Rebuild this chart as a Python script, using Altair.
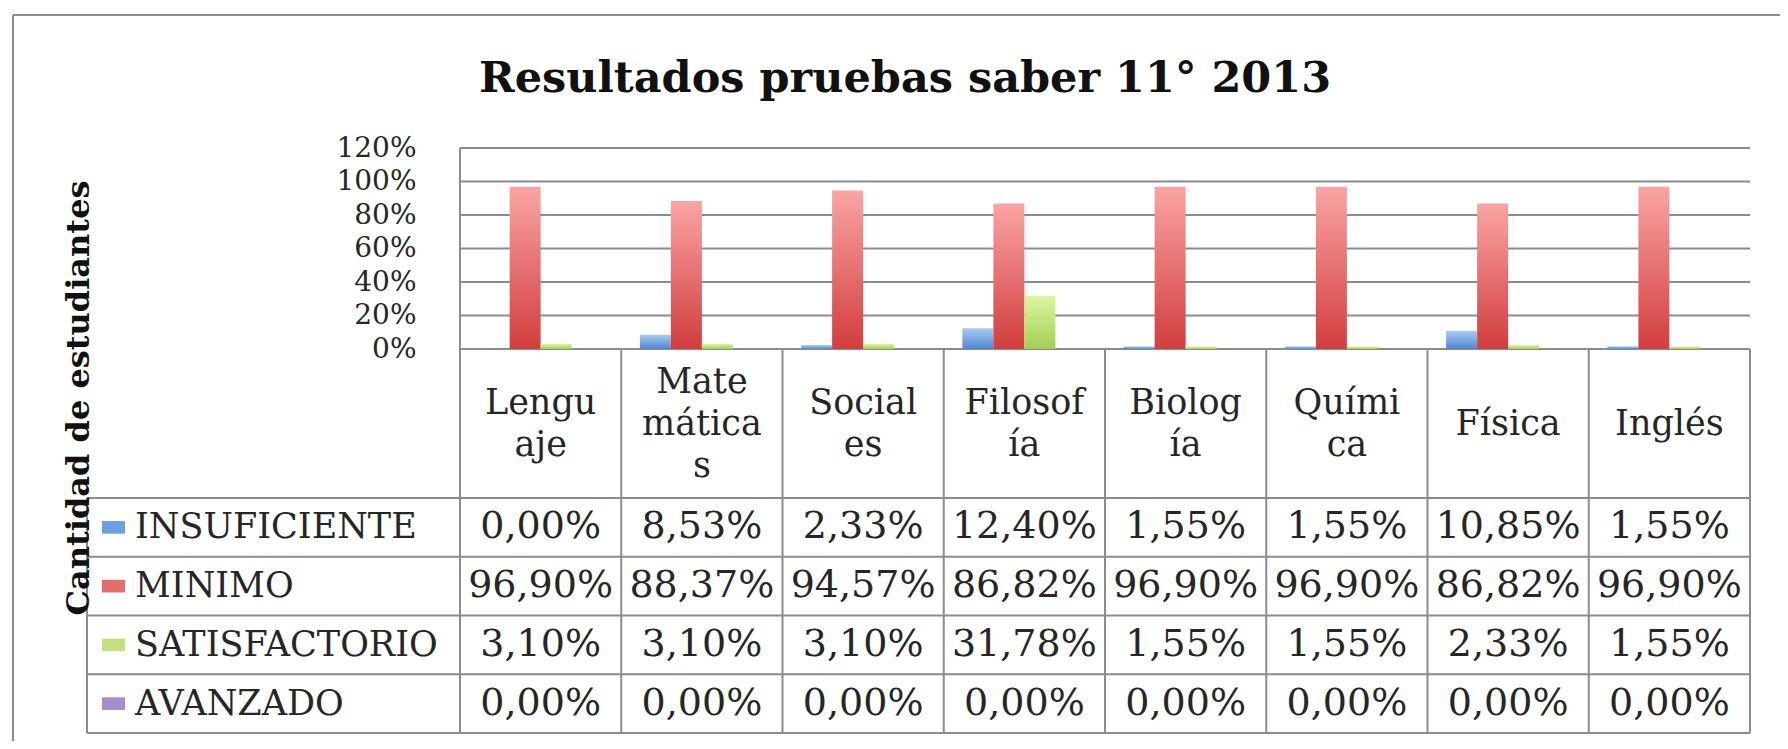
import altair as alt
import pandas as pd

# ---------------- data ----------------
categories = ["Lenguaje", "Matemáticas", "Sociales", "Filosofía", "Biología", "Química", "Física", "Inglés"]
header_labels = ["Lengu\naje", "Mate\nmática\ns", "Social\nes", "Filosof\nía", "Biolog\nía", "Quími\nca", "Física", "Inglés"]
series = ["INSUFICIENTE", "MINIMO", "SATISFACTORIO", "AVANZADO"]
insuficiente = [0.00, 8.53, 2.33, 12.40, 1.55, 1.55, 10.85, 1.55]
minimo = [96.90, 88.37, 94.57, 86.82, 96.90, 96.90, 86.82, 96.90]
satisfactorio = [3.10, 3.10, 3.10, 31.78, 1.55, 1.55, 2.33, 1.55]
avanzado = [0.00, 0.00, 0.00, 0.00, 0.00, 0.00, 0.00, 0.00]
y_ticks = [0.0, 0.2, 0.4, 0.6, 0.8, 1.0, 1.2]
title_text = "Resultados pruebas saber 11° 2013"
y_title = "Cantidad de estudiantes"

series_values = [insuficiente, minimo, satisfactorio, avanzado]
legend_colors = ["#6d9fe0", "#e46c6c", "#c5e07f", "#a48fcc"]
gradients = [("#a9caf3", "#4f86cf"), ("#faa4a4", "#d23d3d"),
             ("#def6a2", "#a2cf52"), ("#c4b5de", "#8064a2")]

# ---------------- layout (pixels) ----------------
COL_PX = 161.25      # width of one subject column
Y_PX = 167.5         # pixels per 100 %
LEG_PX = 373         # width of the legend column of the data table
HEAD_PX = 149        # header row height
ROW_PX = 58.75       # data row height
BAR_PX = 31
LINE_H = 42          # header line height
N = len(categories)
S = len(series)
W = round(LEG_PX + N * COL_PX)
H = round(1.2 * Y_PX + HEAD_PX + S * ROW_PX)
x_min = -LEG_PX / COL_PX
y_max = 1.2
y_min = -(HEAD_PX + S * ROW_PX) / Y_PX
y_head = -HEAD_PX / Y_PX
r = ROW_PX / Y_PX
bw = BAR_PX / COL_PX

xs = alt.Scale(domain=[x_min, N], nice=False, zero=False)
ys = alt.Scale(domain=[y_min, y_max], nice=False, zero=False)

# ---------------- tables ----------------
bar_rows, cell_rows = [], []
for j, s in enumerate(series):
    for i, c in enumerate(categories):
        v = series_values[j][i]
        x0 = i + 0.5 + (j - S / 2) * bw
        bar_rows.append({"serie": s, "cat": c, "x": x0, "x2": x0 + bw, "y": 0.0, "y2": v / 100})
        cell_rows.append({"serie": s, "cat": c, "x": i + 0.5,
                          "y": y_head - (j + 0.5) * r,
                          "label": f"{v:.2f}".replace(".", ",") + "%"})
bars = pd.DataFrame(bar_rows)
cells = pd.DataFrame(cell_rows)
n_lines = [h.count("\n") + 1 for h in header_labels]
heads = pd.DataFrame({"x": [i + 0.5 for i in range(N)],
                      "y": [y_head / 2 + (n - 1) / 2 * LINE_H / Y_PX for n in n_lines],
                      "label": header_labels})
legend = pd.DataFrame({"serie": series,
                       "y": [y_head - (j + 0.5) * r for j in range(S)],
                       "xs": [x_min + 26.5 / COL_PX] * S,
                       "xt": [x_min + 48 / COL_PX] * S})

segs = []
for t in y_ticks:
    segs.append((0, N, t, t))
segs.append((0, 0, y_max, y_min))
for i in range(1, N + 1):
    segs.append((i, i, 0, y_min))
for k in range(S + 1):
    yy = y_head - k * r
    segs.append((x_min, N, yy, yy))
segs.append((x_min, x_min, y_head, y_min))
lines = pd.DataFrame(segs, columns=["x", "x2", "y", "y2"])

FONT = "DejaVu Serif"
TXT = "#262626"
LINE = "#8c8c8c"

yaxis = alt.Axis(values=y_ticks, format=".0%", labelFont=FONT, labelFontSize=28, labelColor=TXT,
                 domain=False, ticks=False, grid=False, labelPadding=0, offset=-(416 - 87),
                 title=None, labelOverlap=False, labelFlush=False)
X = lambda f: alt.X(f, scale=xs, axis=None)
Y = lambda f: alt.Y(f, scale=ys, axis=yaxis)

rules = alt.Chart(lines).mark_rule(color=LINE, strokeWidth=2).encode(
    x=X("x:Q"), x2="x2:Q", y=Y("y:Q"), y2="y2:Q")

bar_layers = []
for s, (top, bot) in zip(series, gradients):
    grad = alt.LinearGradient(gradient="linear",
                              stops=[alt.GradientStop(color=top, offset=0),
                                     alt.GradientStop(color=bot, offset=1)],
                              x1=0, x2=0, y1=0, y2=1)
    bar_layers.append(
        alt.Chart(bars).transform_filter(alt.datum.serie == s).mark_rect(color=grad).encode(
            x=X("x:Q"), x2="x2:Q", y=Y("y:Q"), y2="y2:Q"))

cell_text = alt.Chart(cells).mark_text(font=FONT, fontSize=38, color=TXT, align="center", baseline="middle").encode(
    x=X("x:Q"), y=Y("y:Q"), text="label:N")

head_text = alt.Chart(heads).mark_text(font=FONT, fontSize=35, color=TXT, align="center", baseline="middle",
                                       lineBreak="\n", lineHeight=LINE_H).encode(
    x=X("x:Q"), y=Y("y:Q"), text="label:N")

leg_sym = alt.Chart(legend).mark_point(shape="M-1,-0.55L1,-0.55L1,0.55L-1,0.55Z", size=529,
                                       filled=True, opacity=1).encode(
    x=X("xs:Q"), y=Y("y:Q"),
    color=alt.Color("serie:N", scale=alt.Scale(domain=series, range=legend_colors), legend=None))

leg_text = alt.Chart(legend).mark_text(font=FONT, fontSize=35, color=TXT, align="left", baseline="middle").encode(
    x=X("xt:Q"), y=Y("y:Q"), text="serie:N")

title = alt.Chart(pd.DataFrame({"t": [title_text]})).mark_text(
    font=FONT, fontSize=43, fontWeight="bold", color="#111111", align="center", baseline="alphabetic").encode(
    text="t:N", x=alt.value(818), y=alt.value(-56))

ytitle = alt.Chart(pd.DataFrame({"t": [y_title]})).mark_text(
    font=FONT, fontSize=32, fontWeight="bold", color="#111111", align="center", baseline="middle", angle=270).encode(
    text="t:N", x=alt.value(-8), y=alt.value(250))

frame_top = alt.Chart(pd.DataFrame({"a": [0]})).mark_rule(color=LINE, strokeWidth=2).encode(
    x=alt.value(-74), x2=alt.value(1693), y=alt.value(-133), y2=alt.value(-133))
frame_left = alt.Chart(pd.DataFrame({"a": [0]})).mark_rule(color=LINE, strokeWidth=2).encode(
    x=alt.value(-74), x2=alt.value(-74), y=alt.value(-133), y2=alt.value(H + 8))

chart = alt.layer(frame_top, frame_left, rules, *bar_layers, cell_text, head_text, leg_sym, leg_text, title, ytitle).properties(
    width=W, height=H,
    padding={"left": 79, "top": 140, "right": 30, "bottom": 8},
    autosize=alt.AutoSizeParams(type="none"),
    background="white",
).configure_view(stroke=None)

chart.save("out.html", embed_options={"renderer": "svg", "actions": False})
